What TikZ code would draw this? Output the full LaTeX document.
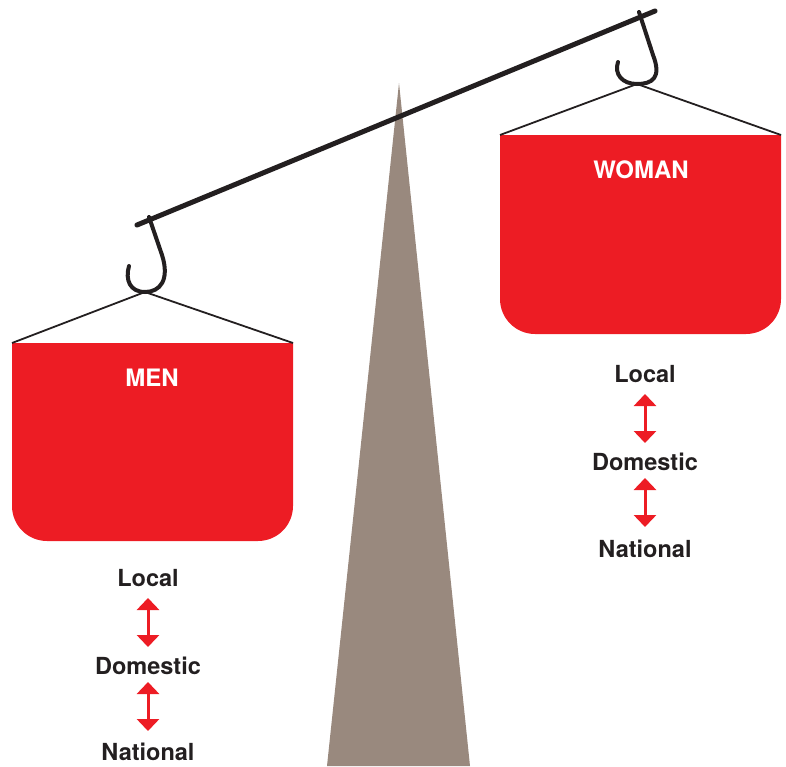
\documentclass[tikz,border=0pt]{standalone}
\usepackage{fontspec}
\setmainfont{TeX Gyre Heros}
\usetikzlibrary{arrows.meta}
\definecolor{scred}{RGB}{237,28,36}
\definecolor{scpivot}{RGB}{153,137,126}
\definecolor{scink}{RGB}{35,31,32}
\tikzset{
  boxtitle/.style={text=white,font=\fontsize{24}{28}\selectfont\bfseries,inner sep=0pt},
  level/.style={text=scink,font=\fontsize{23.5}{28}\selectfont\bfseries,inner sep=0pt},
  link/.style={draw=scred,line width=3pt,{Triangle[length=12pt,width=22pt]}-{Triangle[length=12pt,width=22pt]}},
  hookline/.style={draw=scink,line width=4pt,line cap=round},
  stringline/.style={draw=scink,line width=1.8pt},
  pan/.style={fill=scred},
}
\begin{document}
\begin{tikzpicture}[x=1pt,y=-1pt]
\useasboundingbox (0,0) rectangle (786,766);
% pivot
\fill[scpivot] (399,83) -- (470,766) -- (327,766) -- cycle;
% beam
\coordinate (bl) at (137,225);
\coordinate (br) at (655,11);
\draw[draw=scink,line width=5pt,line cap=round] (bl) -- (br);
% left hook
\coordinate (lhb) at (145,292);
\draw[hookline] (149,217) -- (162,255) .. controls (170,280) and (160,292) .. (lhb) .. controls (130,292) and (125,280) .. (129,266);
% right hook
\coordinate (rhb) at (637,84);
\draw[hookline] (639,12) -- (653,55) .. controls (662,78) and (652,84) .. (rhb) .. controls (622,84) and (614,74) .. (618,62);
% left pan
\coordinate (mtl) at (12,343);
\coordinate (mtr) at (293,343);
\fill[pan] (mtl) -- (mtr) -- (293,506) .. controls (293,525.3) and (277.3,541) .. (258,541) -- (47,541) .. controls (27.7,541) and (12,525.3) .. (12,506) -- cycle;
\draw[stringline] (mtl) -- (lhb) -- (mtr);
% right pan
\coordinate (wtl) at (500,135);
\coordinate (wtr) at (781,135);
\fill[pan] (wtl) -- (wtr) -- (781,299) .. controls (781,318.3) and (765.3,334) .. (746,334) -- (535,334) .. controls (515.7,334) and (500,318.3) .. (500,299) -- cycle;
\draw[stringline] (wtl) -- (rhb) -- (wtr);
% titles
\node[boxtitle] (men) at (152,378) {MEN};
\node[boxtitle] (woman) at (641,170) {WOMAN};
% left levels
\node[level] (ll) at (148,578) {Local};
\node[level] (ld) at (148,666) {Domestic};
\node[level] (ln) at (148,752) {National};
\draw[link] (148,598) -- (148,647);
\draw[link] (148,682) -- (148,731);
% right levels
\node[level] (rl) at (645,374) {Local};
\node[level] (rd) at (645,462) {Domestic};
\node[level] (rn) at (645,549) {National};
\draw[link] (645,394) -- (645,443);
\draw[link] (645,478) -- (645,527);
\end{tikzpicture}
\end{document}
